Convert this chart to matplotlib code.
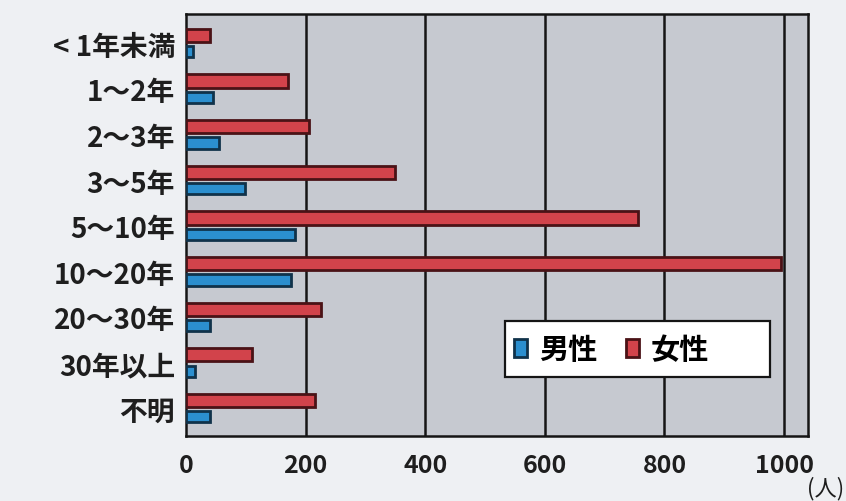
import numpy as np
import matplotlib
matplotlib.use("Agg")
import matplotlib.pyplot as plt
from matplotlib.patches import Rectangle

plt.rcParams['font.family'] = ['Noto Sans CJK JP', 'DejaVu Sans']

# ---- datos ----
categorias = ["< 1年未満", "1～2年", "2～3年", "3～5年", "5～10年",
              "10～20年", "20～30年", "30年以上", "不明"]
mujeres = [40, 170, 205, 350, 755, 995, 225, 110, 215]
hombres = [12, 45, 55, 98, 183, 175, 40, 15, 40]
xticks = [0, 200, 400, 600, 800, 1000]

ROJO = "#d2434b"
AZUL = "#2b8fcf"

fig = plt.figure(figsize=(8.46, 5.02), dpi=100)
fig.patch.set_facecolor("#eef0f3")
ax = fig.add_axes([186 / 846, 1 - 437 / 502, 622 / 846, 422 / 502])
ax.set_facecolor("#c6c9d0")

y = np.arange(len(categorias))
h = 0.29
ax.barh(y - 0.18, mujeres, height=h, color=ROJO, edgecolor="#4a1216",
        linewidth=2.0, label="女性", zorder=3)
ax.barh(y + 0.18, hombres, height=h * 0.85, color=AZUL, edgecolor="#10324a",
        linewidth=2.0, label="男性", zorder=3)

for xv in xticks[1:]:
    ax.axvline(xv, color="#151515", lw=1.8, zorder=1)

ax.set_xlim(0, 1040)
ax.set_ylim(8.6, -0.65)
ax.set_yticks(y)
ax.set_yticklabels(categorias, fontsize=20, fontweight="bold", color="#1e1e1e")
ax.set_xticks(xticks)
ax.set_xticklabels([str(v) for v in xticks], fontsize=18, fontweight="bold",
                   color="#1e1e1e")
ax.tick_params(length=0, pad=8)
ax.tick_params(axis="x", pad=12)
for s in ax.spines.values():
    s.set_color("#151515")
    s.set_linewidth(1.8)

# leyenda: primero hombres, luego mujeres; marco dibujado aparte
ax.add_patch(Rectangle((0.513, 0.14), 0.426, 0.132, transform=ax.transAxes,
                       facecolor="white", edgecolor="#151515", lw=1.6,
                       zorder=4))
hnd, lab = ax.get_legend_handles_labels()
leg = ax.legend(hnd[::-1], lab[::-1], loc="center left",
                bbox_to_anchor=(0.513, 0.206), ncol=2, fontsize=21,
                frameon=False, handlelength=0.45, handleheight=0.6,
                handletextpad=0.4, columnspacing=1.0, borderaxespad=0,
                borderpad=0.3)
for t in leg.get_texts():
    t.set_fontweight("bold")
leg.set_zorder(5)

fig.text(826 / 846, 1 - 489 / 502, "(人)", fontsize=16, ha="center",
         va="center", color="#1e1e1e")

fig.savefig("out.png", dpi=100, facecolor=fig.get_facecolor())
